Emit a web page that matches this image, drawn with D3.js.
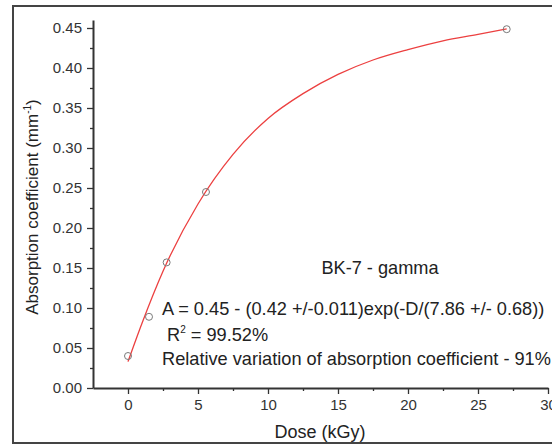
<!DOCTYPE html>
<html><head><meta charset="utf-8">
<script src="https://cdn.jsdelivr.net/npm/d3@7/dist/d3.min.js"></script>
<style>
html,body{margin:0;padding:0;background:#fff;}
svg{display:block;font-family:"Liberation Sans",Arial,sans-serif;}
</style></head>
<body>
<svg id="chart" width="552" height="445"></svg>
<script>
// Measured data points
const dose = [0, 1.5, 2.76, 5.57, 27.05];
const absorption = [0.040, 0.089, 0.157, 0.245, 0.4485];
// Fitted curve
const fitDose = [0, 1, 2.5, 5, 7.5, 10, 12.5, 15, 17.5, 20, 22.5, 25, 27.05];
const fitAbs  = [0.033, 0.081, 0.146, 0.230, 0.292, 0.337, 0.368, 0.392, 0.410, 0.423, 0.434, 0.442, 0.4488];
// Ticks
const xTicks = [0, 5, 10, 15, 20, 25, 30];
const xMinor = [2.5, 7.5, 12.5, 17.5, 22.5, 27.5];
const yTicks = [0, 0.05, 0.10, 0.15, 0.20, 0.25, 0.30, 0.35, 0.40, 0.45];
const yMinor = [0.025, 0.075, 0.125, 0.175, 0.225, 0.275, 0.325, 0.375, 0.425];
const title = "BK-7 - gamma";
const eqText = "A = 0.45 - (0.42 +/-0.011)exp(-D/(7.86 +/- 0.68))";
const r2Value = " = 99.52%";
const relText = "Relative variation of absorption coefficient - 91%";

const svg = d3.select("#chart");
const x = d3.scaleLinear().domain([-2.5, 30]).range([93, 548]);
const y = d3.scaleLinear().domain([0, 0.46]).range([388, 20]);

// outer frame
svg.append("rect").attr("x", 13).attr("y", 6).attr("width", 560).attr("height", 437)
  .attr("fill", "none").attr("stroke", "#444").attr("stroke-width", 2);

const axisColor = "#333";
// minor ticks
const gx = svg.append("g").attr("transform", "translate(0,388)");
gx.call(d3.axisBottom(x).tickValues(xMinor).tickSize(3).tickFormat("").tickSizeOuter(0));
gx.select(".domain").remove();
const gx2 = svg.append("g").attr("transform", "translate(0,388)");
gx2.call(d3.axisBottom(x).tickValues(xTicks).tickSize(6).tickSizeOuter(0).tickPadding(5)
  .tickFormat(d3.format("d")));
const gy = svg.append("g").attr("transform", "translate(93,0)");
gy.call(d3.axisLeft(y).tickValues(yMinor).tickSize(3).tickFormat("").tickSizeOuter(0));
gy.select(".domain").remove();
const gy2 = svg.append("g").attr("transform", "translate(93,0)");
gy2.call(d3.axisLeft(y).tickValues(yTicks).tickSize(6).tickSizeOuter(0).tickPadding(5)
  .tickFormat(d3.format(".2f")));

svg.selectAll(".domain").attr("stroke", axisColor).attr("stroke-width", 2);
svg.selectAll(".tick line").attr("stroke", axisColor).attr("stroke-width", 1.3);
svg.selectAll(".tick text").attr("fill", "#333").style("font-size", "15px")
  .style("font-family", "'Liberation Sans', Arial, sans-serif");

// fitted curve
const line = d3.line().x((d, i) => x(fitDose[i])).y((d, i) => y(fitAbs[i])).curve(d3.curveMonotoneX);
svg.append("path").datum(fitDose).attr("d", line).attr("fill", "none")
  .attr("stroke", "#ec4040").attr("stroke-width", 1.3);

// points
svg.selectAll("circle.pt").data(dose).enter().append("circle").attr("class", "pt")
  .attr("cx", d => x(d)).attr("cy", (d, i) => y(absorption[i])).attr("r", 3.5)
  .attr("fill", "none").attr("stroke", "#7a7a7a").attr("stroke-width", 1);

// axis titles
svg.append("text").attr("x", 320).attr("y", 438).attr("text-anchor", "middle")
  .style("font-size", "18px").attr("fill", "#222").text("Dose (kGy)");
const yt = svg.append("text").attr("transform", "translate(38,207) rotate(-90)")
  .attr("text-anchor", "middle").style("font-size", "17px").attr("fill", "#222");
yt.append("tspan").text("Absorption coefficient (mm");
yt.append("tspan").attr("dy", -7).style("font-size", "10px").text("-1");
yt.append("tspan").attr("dy", 7).text(")");

// annotations
svg.append("text").attr("x", 380).attr("y", 274).attr("text-anchor", "middle")
  .style("font-size", "18.2px").attr("fill", "#222").text(title);
svg.append("text").attr("x", 162).attr("y", 315).style("font-size", "18.2px").attr("fill", "#222").text(eqText);
const r2 = svg.append("text").attr("x", 167).attr("y", 341).style("font-size", "18.2px").attr("fill", "#222");
r2.append("tspan").text("R");
r2.append("tspan").attr("dy", -8).style("font-size", "10px").text("2");
r2.append("tspan").attr("dy", 8).text(r2Value);
svg.append("text").attr("x", 162).attr("y", 365).style("font-size", "18.2px").attr("fill", "#222").text(relText);
</script>
</body></html>
